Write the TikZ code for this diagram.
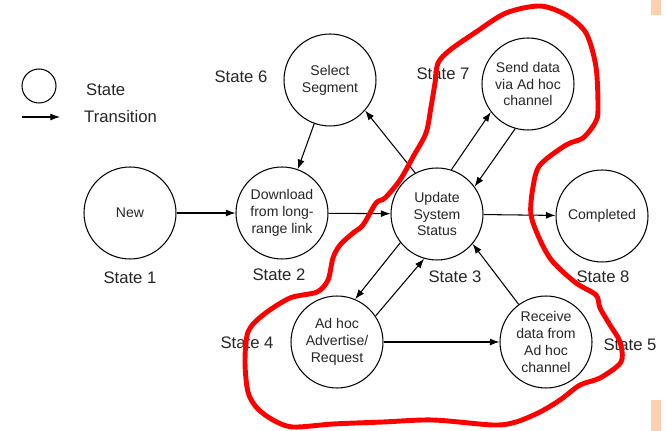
\documentclass[tikz,border=0pt]{standalone}
\usepackage{fontspec}
\setmainfont{Liberation Sans}
\usetikzlibrary{arrows.meta}
\begin{document}
\begin{tikzpicture}[x=0.02cm, y=-0.02cm,
    state/.style={draw, circle, line width=0.6pt, minimum size=1.84cm, inner sep=0pt,
      align=center, font=\fontsize{8}{9.6}\selectfont, text=black!85},
    lbl/.style={font=\fontsize{9.5}{11}\selectfont, text=black!85},
    trans/.style={-{Latex[length=5.5pt,width=4pt]}, line width=0.6pt},
    scribble/.style={red, line width=2.8pt, line cap=round, line join=round}
  ]
    % \draw[help lines, step=50] (0, 0) grid (666, 431);
    \useasboundingbox (0, 0) rectangle (666, 431);
    \fill[red!25!orange!30] (651, 0) rectangle (661, 15);
    \fill[red!25!orange!30] (651, 400) rectangle (661, 431);

    % legend
    \node[draw, circle, line width=0.6pt, minimum size=0.68cm, inner sep=0pt] (legstate) at (39, 86) {};
    \node[lbl, anchor=west] (legstatetxt) at (80, 90) {State};
    \coordinate (legfrom) at (22, 117);
    \coordinate (legto) at (60, 117);
    \draw[trans] (legfrom) -- (legto);
    \node[lbl, anchor=west] (legtranstxt) at (78, 117) {Transition};

    % states
    \node[state] (new) at (130, 213) {New};
    \node[state] (download) at (282, 213) {Download\\from long-\\range link};
    \node[state] (select) at (330, 80) {Select\\Segment};
    \node[state] (update) at (437, 214) {Update\\System\\Status};
    \node[state] (send) at (528, 84) {Send data\\via Ad hoc\\channel};
    \node[state] (completed) at (602, 216) {Completed};
    \node[state] (adhoc) at (337, 342) {Ad hoc\\Advertise/\\Request};
    \node[state] (receive) at (546, 342) {Receive\\data from\\Ad hoc\\channel};

    \node[lbl] (s1) at (130, 278) {State 1};
    \node[lbl] (s2) at (279, 275) {State 2};
    \node[lbl] (s3) at (455, 277) {State 3};
    \node[lbl] (s4) at (247, 343) {State 4};
    \node[lbl] (s5) at (630, 345) {State 5};
    \node[lbl] (s6) at (241, 77) {State 6};
    \node[lbl] (s7) at (443, 74) {State 7};
    \node[lbl] (s8) at (603, 277) {State 8};

    % transitions
    \draw[trans] (new) -- (download);
    \draw[trans] (select) -- (download);
    \draw[trans] (download) -- (update);
    \draw[trans] (update.118) -- (select.-41);
    \draw[trans] (update.72) -- (send.217);
    \draw[trans] (send.254) -- (update.36);
    \draw[trans] (update) -- (completed);
    \draw[trans] (update.218) -- (adhoc.67);
    \draw[trans] (adhoc.34) -- (update.254);
    \draw[trans] (adhoc) -- (receive);
    \draw[trans] (receive.126) -- (update.-40);

    % hand drawn outline
    \draw[scribble] plot[smooth cycle, tension=0.5] coordinates {
      (506, 13) (540, 6) (566, 15) (586, 33) (596, 67) (598, 110) (595, 123)
      (583, 138) (566, 145) (540, 165) (533, 187) (531, 215) (541, 242)
      (553, 262) (576, 283) (596, 295) (600, 308) (610, 325) (620, 342)
      (621, 362) (600, 378) (580, 385) (560, 400) (540, 412) (516, 422)
      (493, 425) (433, 420) (383, 422) (333, 424) (293, 427) (273, 420)
      (257, 408) (248, 392) (245, 362) (248, 332) (263, 315) (290, 298)
      (317, 292) (328, 280) (333, 258) (340, 245) (353, 233) (363, 225)
      (376, 203) (385, 198) (400, 180) (413, 157) (426, 133) (431, 107)
      (435, 83) (438, 63) (450, 50) (476, 32)};
  \end{tikzpicture}
\end{document}
